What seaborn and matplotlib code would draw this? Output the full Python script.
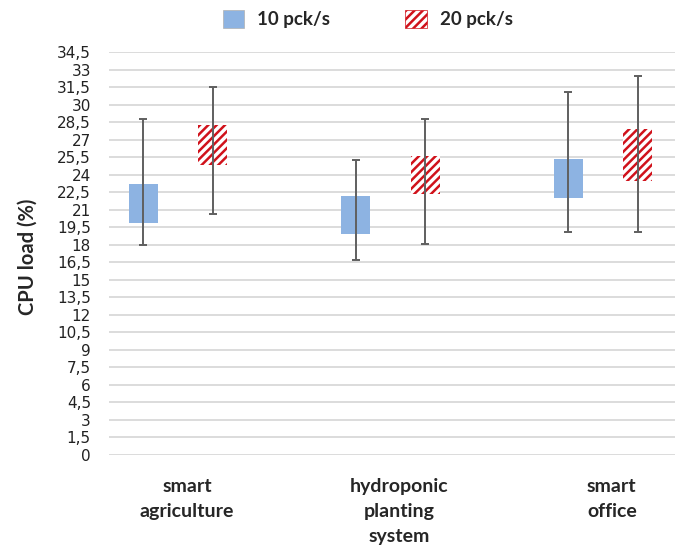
"""CPU load per scenario at two packet rates, drawn as floating boxes with whiskers."""

import matplotlib

matplotlib.use("Agg")

import matplotlib.pyplot as plt
import numpy as np
import seaborn as sns
from matplotlib.patches import Patch
from matplotlib.ticker import FuncFormatter, MultipleLocator

categories = ["smart\nagriculture", "hydroponic\nplanting\nsystem", "smart\noffice"]
series_names = ["10 pck/s", "20 pck/s"]

# box bottom / top and whisker ends
low_10 = [19.85, 18.9, 22.0]
high_10 = [23.2, 22.15, 25.35]
min_10 = [17.95, 16.7, 19.1]
max_10 = [28.75, 25.3, 31.1]

low_20 = [24.85, 22.4, 23.5]
high_20 = [28.25, 25.65, 27.9]
min_20 = [20.65, 18.1, 19.1]
max_20 = [31.5, 28.8, 32.5]

y_ticks_step = 1.5
y_max = 34.5

BLUE = "#8DB3E2"
RED = "#D0121B"
WHISKER = "#5F5F5F"
GRID = "#D9D9D9"


def comma_format(value, _pos):
    """Excel chart used a comma as decimal separator."""
    text = f"{value:g}"
    return text.replace(".", ",")


def main():
    sns.set_theme(style="white")
    plt.rcParams["font.family"] = ["Lato", "DejaVu Sans"]
    plt.rcParams["hatch.linewidth"] = 1.8

    fig = plt.figure(figsize=(6.81, 5.46), dpi=100)
    ax = fig.add_axes([0.160, 0.167, 0.831, 0.737])

    x = np.arange(len(categories))
    width = 0.137
    offsets = [-0.205, 0.122]

    series = [
        (low_10, high_10, min_10, max_10),
        (low_20, high_20, min_20, max_20),
    ]

    for index, (low, high, lo_w, hi_w) in enumerate(series):
        pos = x + offsets[index]
        heights = np.array(high) - np.array(low)
        if index == 0:
            ax.bar(pos, heights, width=width, bottom=low, color=BLUE,
                   edgecolor=BLUE, linewidth=0, zorder=2)
        else:
            ax.bar(pos, heights, width=width, bottom=low, facecolor="white",
                   edgecolor=RED, hatch="////", linewidth=0, zorder=2)
        mid = (np.array(lo_w) + np.array(hi_w)) / 2
        err = [mid - np.array(lo_w), np.array(hi_w) - mid]
        ax.errorbar(pos, mid, yerr=err, fmt="none", ecolor=WHISKER,
                    elinewidth=1.4, capsize=2.8, capthick=1.4, zorder=3)

    ax.set_ylim(0, y_max)
    ax.set_xlim(-0.367, 2.297)
    ax.yaxis.set_major_locator(MultipleLocator(y_ticks_step))
    ax.yaxis.set_major_formatter(FuncFormatter(comma_format))
    ax.grid(axis="y", color=GRID, linewidth=1.3, zorder=0)
    ax.set_axisbelow(True)

    ax.set_xticks(x)
    ax.set_xticklabels(categories, fontsize=14, fontweight="bold",
                       linespacing=1.55, va="top")
    ax.tick_params(axis="x", length=0, pad=17)
    ax.tick_params(axis="y", length=0, pad=13, labelsize=11, labelcolor="#222222")
    for label in ax.get_yticklabels():
        label.set_fontfamily("DejaVu Sans")
    sns.despine(ax=ax, left=True, bottom=True)

    fig.text(28 / 681, 1 - 257 / 546, "CPU load (%)", rotation=90,
             ha="center", va="center", fontsize=14.5, fontweight="bold")

    handles = [
        Patch(facecolor=BLUE, edgecolor="#B0B0B0", linewidth=0.5),
        Patch(facecolor="white", edgecolor=RED, hatch="////", linewidth=0.5),
    ]
    fig.legend(handles, series_names, loc="center", bbox_to_anchor=(0.54, 0.965),
               ncol=2, frameon=False, prop={"weight": "bold", "size": 13.5},
               handlelength=1.15, handleheight=1.07, handletextpad=0.7,
               columnspacing=4.0)

    fig.savefig("out.png", dpi=100)
    plt.close(fig)


if __name__ == "__main__":
    main()
